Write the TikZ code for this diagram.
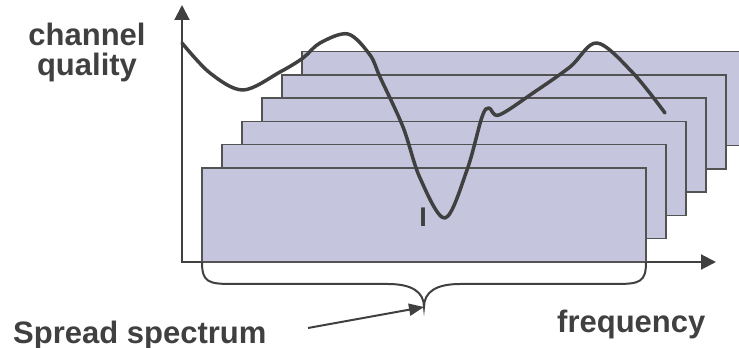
\documentclass[tikz,border=0pt]{standalone}
\usepackage{fontspec}
\setmainfont{Liberation Sans}
\usetikzlibrary{arrows.meta,positioning}

\definecolor{bandfill}{HTML}{C5C5DD}
\definecolor{inkgray}{HTML}{404040}

\begin{document}
\begin{tikzpicture}[
  x=1pt, y=1pt,
  font=\fontsize{31}{30}\selectfont\bfseries,
  band/.style={draw=inkgray!90, line width=1.6pt, fill=bandfill, minimum width=444pt, minimum height=94pt, inner sep=0pt, outer sep=0pt, anchor=south west},
  axis/.style={draw=inkgray, line width=2pt, {Triangle[length=15pt,width=15pt]}-{Triangle[length=15pt,width=15pt]}},
  quality/.style={draw=inkgray, line width=3.5pt, line cap=round, line join=round},
  brace/.style={draw=inkgray, line width=2pt},
  pointer/.style={draw=inkgray, line width=2pt, -{Triangle[length=15pt,width=12pt]}},
  label/.style={text=inkgray, inner sep=0pt}
]
\useasboundingbox (0,0) rectangle (739,348);

% Axes
\coordinate (origin) at (182,86);
\coordinate (ytip) at (182,343);
\coordinate (xtip) at (716,86);
\draw[axis] (ytip) -- (origin) -- (xtip);

% Frequency bands, back to front
\foreach \k in {5,...,0}
  \node[band] (band\k) at ({202+20*\k},{86+23.3*\k}) {};

% Channel quality curve
\draw[quality] plot[smooth, tension=0.55] coordinates {
  (182,305) (210,275) (243,258) (280,276) (303,290) (320,305) (348,314)
  (370,293) (380,271) (403,221) (420,170) (445,130) (467,178) (482,231)
  (489,240) (499,233) (533,255) (570,281) (597,305) (633,275) (665,235)};
\node[label, font=\fontsize{27}{27}\selectfont\bfseries] (cursor) at (423,131) {I};

% Brace under the front band
\coordinate (bracetip) at (424,41);
\draw[brace] (band0.south west) .. controls (202,66) and (208,64) .. (232,64)
  -- (388,64) .. controls (412,64) and (424,56) .. (bracetip)
  .. controls (424,56) and (436,64) .. (460,64)
  -- (616,64) .. controls (640,64) and (646,66) .. (band0.south east);

% Labels
\node[label, align=center] (ylabel) at (87,296) {channel\\quality};
\node[label, anchor=base west] (xlabel) at (557,15) {frequency};
\node[label, anchor=base west] (spread) at (13,5) {Spread spectrum};
\coordinate (spreadtail) at (308,20);
\draw[pointer] (spreadtail) -- (bracetip);
\end{tikzpicture}
\end{document}
